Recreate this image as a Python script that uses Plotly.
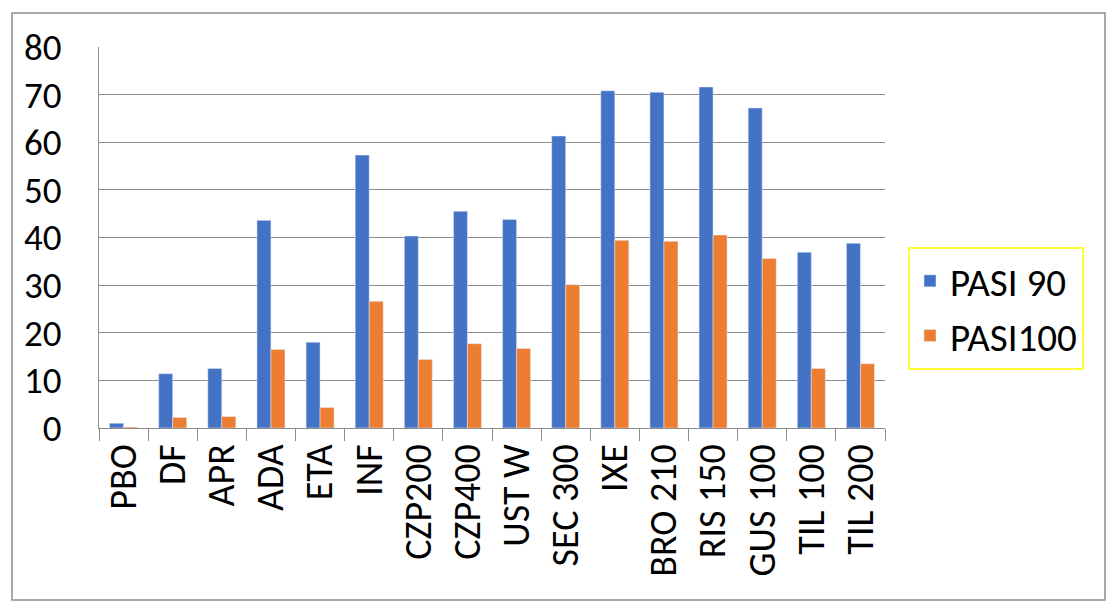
import plotly.graph_objects as go

# categories and values
treatments = ['PBO', 'DF', 'APR', 'ADA', 'ETA', 'INF', 'CZP200', 'CZP400', 'UST W',
              'SEC 300', 'IXE', 'BRO 210', 'RIS 150', 'GUS 100', 'TIL 100', 'TIL 200']
pasi90 = [1.0, 11.4, 12.5, 43.6, 18.0, 57.3, 40.3, 45.5, 43.8,
          61.3, 70.8, 70.5, 71.6, 67.2, 36.9, 38.8]
pasi100 = [0.2, 2.2, 2.4, 16.5, 4.3, 26.6, 14.4, 17.7, 16.7,
           30.1, 39.4, 39.2, 40.5, 35.6, 12.5, 13.5]
y_ticks = [0, 10, 20, 30, 40, 50, 60, 70, 80]

# page has an 8px body margin, so work in screen pixels and shift
OFF = 8
W, H = 1114 - OFF, 614 - OFF
L, T = 99 - OFF, 47 - OFF
pw, ph = 885 - 99, 428 - 47
R, B = W - L - pw, H - T - ph

def px_x(p):
    return (p - OFF - L) / pw

def px_y(p):
    return (T + ph - (p - OFF)) / ph

fig = go.Figure()
fig.add_trace(go.Bar(name='PASI 90', x=treatments, y=pasi90, marker_color='#4472C4',
                     legendgroup='a'))
fig.add_trace(go.Bar(name='PASI100', x=treatments, y=pasi100, marker_color='#ED7D31',
                     legendgroup='b'))

fig.update_layout(
    width=W, height=H,
    margin=dict(l=L, r=R, t=T, b=B),
    barmode='group', bargap=0.43, bargroupgap=0,
    plot_bgcolor='white', paper_bgcolor='white',
    font=dict(family='Carlito, Liberation Sans, sans-serif', size=36, color='black'),
    legend=dict(
        x=px_x(908), y=px_y(247), xanchor='left', yanchor='top',
        bordercolor='#FFFF33', borderwidth=2,
        font=dict(size=39), itemwidth=30, tracegroupgap=1,
    ),
    shapes=[dict(type='rect', xref='paper', yref='paper',
                 x0=px_x(12), x1=px_x(1105), y0=px_y(600), y1=px_y(13),
                 line=dict(color='#8c8c8c', width=1.5))],
)
fig.update_xaxes(
    type='category', showgrid=False, showline=True, linecolor='#8c8c8c', linewidth=1,
    ticks='outside', tickson='boundaries', ticklen=12, tickcolor='#8c8c8c',
    tickangle=-90, tickfont=dict(size=38),
)
fig.update_yaxes(
    range=[0, 80], tickvals=y_ticks, showgrid=True, gridcolor='#8c8c8c', gridwidth=1,
    showline=True, linecolor='#8c8c8c', zeroline=False, ticks='', ticklabelstandoff=29,
    tickfont=dict(size=37),
)

fig.write_html('out.html')
